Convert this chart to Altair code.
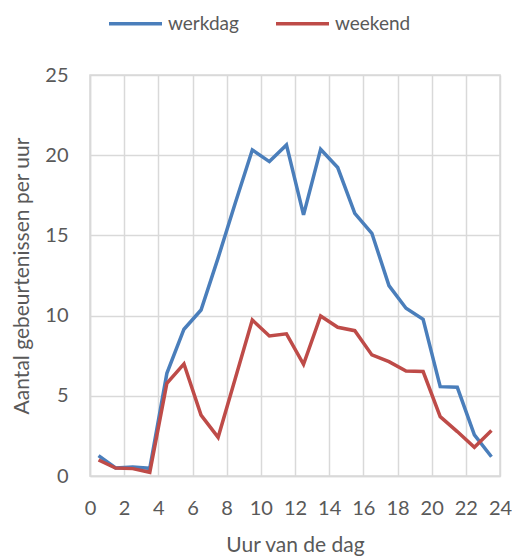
import altair as alt
import pandas as pd

hours = [h + 0.5 for h in range(24)]
werkdag = [1.27, 0.5, 0.56, 0.48, 6.4, 9.15, 10.35, 13.6, 17.0, 20.33, 19.6, 20.64,
           16.28, 20.37, 19.23, 16.38, 15.13, 11.87, 10.46, 9.77, 5.57, 5.53, 2.56, 1.2]
weekend = [1.0, 0.5, 0.46, 0.23, 5.78, 6.99, 3.8, 2.41, 6.07, 9.73, 8.73, 8.86,
           6.96, 9.98, 9.27, 9.06, 7.55, 7.13, 6.55, 6.51, 3.7, 2.77, 1.79, 2.83]
series = ["werkdag", "weekend"]
colors = ["#4A7EBB", "#BE4B48"]
x_ticks = list(range(0, 25, 2))
y_ticks = [0, 5, 10, 15, 20, 25]

df = pd.concat([
    pd.DataFrame({"uur": hours, "waarde": werkdag, "reeks": "werkdag"}),
    pd.DataFrame({"uur": hours, "waarde": weekend, "reeks": "weekend"}),
])

font = "Lato"
grey = "#595959"

chart = alt.Chart(df).mark_line(strokeWidth=3.5, strokeJoin="miter").encode(
    x=alt.X("uur:Q", scale=alt.Scale(domain=[0, 24], nice=False),
            axis=alt.Axis(values=x_ticks, title="Uur van de dag", grid=True,
                          ticks=False, labelPadding=22, titlePadding=16,
                          labelFlush=False, labelOverlap=False)),
    y=alt.Y("waarde:Q", scale=alt.Scale(domain=[0, 25], nice=False),
            axis=alt.Axis(values=y_ticks, title="Aantal gebeurtenissen per uur", grid=True,
                          ticks=False, labelPadding=22, titlePadding=12,
                          labelFlush=False)),
    color=alt.Color("reeks:N", scale=alt.Scale(domain=series, range=colors),
                    legend=alt.Legend(title=None, orient="none", direction="horizontal",
                                      legendX=17, legendY=-80, symbolType="stroke",
                                      symbolSize=2809, symbolStrokeWidth=3.5,
                                      labelFontSize=19, labelFont=font, labelColor=grey,
                                      columnPadding=30, labelOffset=4)),
).properties(
    width=410, height=401,
    autosize=alt.AutoSizeParams(type="none"),
    padding={"left": 82, "top": 67, "right": 12, "bottom": 80},
).configure_axis(
    labelFont=font, titleFont=font, labelFontSize=20, titleFontSize=21,
    labelColor=grey, titleColor=grey, titleFontWeight="normal",
    gridColor="#D9D9D9", gridWidth=1.5, domainColor="#D9D9D9", domainWidth=1.5,
).configure_view(stroke="#D9D9D9", strokeWidth=1.5)

chart.save("out.html", embed_options={"renderer": "svg", "actions": False})
